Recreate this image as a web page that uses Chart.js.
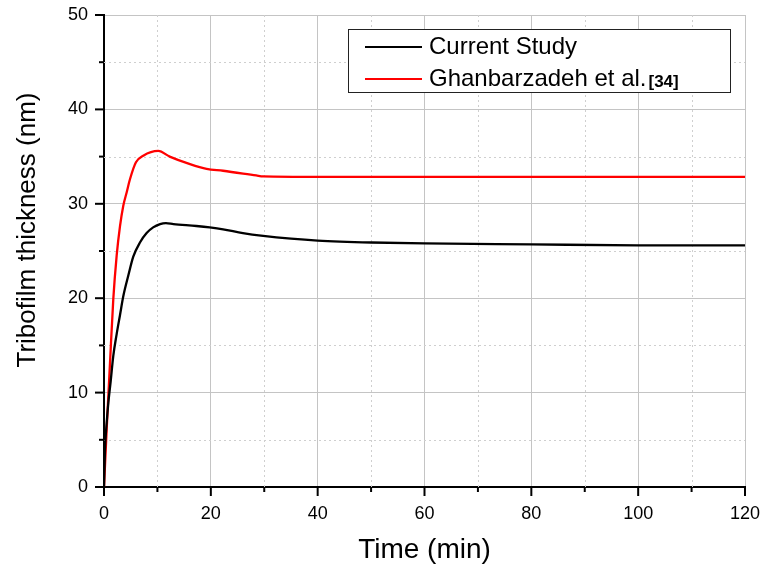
<!DOCTYPE html>
<html>
<head>
<meta charset="utf-8">
<script src="https://cdn.jsdelivr.net/npm/chart.js@4/dist/chart.umd.min.js"></script>
<style>
    body { margin: 0; background: #fff; }
    #wrap { width: 766px; height: 573px; }
</style>
</head>
<body>
<div id="wrap"><canvas id="filmChart"></canvas></div>
<script>
'use strict';

// Current Study (time in min, thickness in nm)
const timeCurrent = [0, 0.19, 0.5, 0.81, 1.25, 1.74, 2.37, 2.99, 3.61, 4.55, 5.48, 6.73, 7.98, 9.2, 10.5, 11.6, 13.0, 17.3, 19.8, 22.3, 26.0, 29.8, 35, 40, 50, 60, 80, 100, 120];
const thicknessCurrent = [0, 4.0, 6.8, 8.9, 11.2, 13.9, 16.2, 18.2, 20.2, 22.4, 24.4, 25.9, 26.9, 27.5, 27.85, 27.95, 27.85, 27.65, 27.5, 27.3, 26.9, 26.6, 26.3, 26.1, 25.9, 25.8, 25.7, 25.6, 25.6];
// Ghanbarzadeh et al. [34]
const timeGhanbar = [0, 0.5, 1.12, 1.74, 2.37, 2.99, 3.61, 4.24, 4.86, 5.98, 7.35, 10.16, 12.3, 16.1, 19.2, 22.3, 28.5, 29.8, 40, 60, 80, 100, 120];
const thicknessGhanbar = [0, 6.1, 13.1, 19.9, 24.5, 27.6, 29.8, 31.2, 32.6, 34.4, 35.1, 35.6, 35.0, 34.2, 33.7, 33.5, 33.0, 32.9, 32.85, 32.85, 32.85, 32.85, 32.85];
// 凡例・軸タイトルの文字
const legendLabels = ['Current Study', 'Ghanbarzadeh et al.'];
const legendRef = '[34]';
const yTitle = 'Tribofilm thickness (nm)';
const xTitle = 'Time (min)';
// 軸の目盛
const xMajorTicks = [0, 20, 40, 60, 80, 100, 120];
const xMinorTicks = [10, 30, 50, 70, 90, 110];
const yMajorTicks = [0, 10, 20, 30, 40, 50];
const yMinorTicks = [5, 15, 25, 35, 45];

const FONT = 'Arial, "Liberation Sans", sans-serif';
Chart.defaults.font.family = FONT;
Chart.defaults.color = '#000';

function toPoints(xs, ys) {
    return xs.map((x, i) => ({ x: x, y: ys[i] }));
}

/**
 * 副目盛の点線と目盛線（外向き）、縦軸タイトル、凡例を描く
 */
const axisDecor = {
    id: 'axisDecor',
    beforeDatasetsDraw(chart) {
        const { ctx, chartArea: a, scales: { x, y } } = chart;
        ctx.save();
        ctx.strokeStyle = '#cfcfcf';
        ctx.lineWidth = 1;
        ctx.setLineDash([2, 3]);
        xMinorTicks.forEach(v => {
            const px = Math.round(x.getPixelForValue(v)) + 0.5;
            ctx.beginPath(); ctx.moveTo(px, a.top); ctx.lineTo(px, a.bottom); ctx.stroke();
        });
        yMinorTicks.forEach(v => {
            const py = Math.round(y.getPixelForValue(v)) + 0.5;
            ctx.beginPath(); ctx.moveTo(a.left, py); ctx.lineTo(a.right, py); ctx.stroke();
        });
        ctx.restore();
    },
    afterDraw(chart) {
        const { ctx, chartArea: a, scales: { x, y } } = chart;
        ctx.save();
        ctx.strokeStyle = '#000';
        ctx.lineWidth = 2;
        const tickX = (v, len) => {
            const px = x.getPixelForValue(v);
            ctx.beginPath(); ctx.moveTo(px, a.bottom); ctx.lineTo(px, a.bottom + len); ctx.stroke();
        };
        const tickY = (v, len) => {
            const py = y.getPixelForValue(v);
            ctx.beginPath(); ctx.moveTo(a.left, py); ctx.lineTo(a.left - len, py); ctx.stroke();
        };
        xMajorTicks.forEach(v => tickX(v, 9));
        xMinorTicks.forEach(v => tickX(v, 5));
        yMajorTicks.forEach(v => tickY(v, 9));
        yMinorTicks.forEach(v => tickY(v, 5));

        // 縦軸タイトル（少し上寄り）
        ctx.save();
        ctx.translate(28, 230);
        ctx.rotate(-Math.PI / 2);
        ctx.font = '26px ' + FONT;
        ctx.fillStyle = '#000';
        ctx.textAlign = 'center';
        ctx.textBaseline = 'middle';
        ctx.fillText(yTitle, 0, 0);
        ctx.restore();

        // 凡例
        const bx = 348, by = 29, bw = 382, bh = 63;
        ctx.fillStyle = '#fff';
        ctx.fillRect(bx, by, bw, bh);
        ctx.lineWidth = 1;
        ctx.strokeStyle = '#222';
        ctx.strokeRect(bx + 0.5, by + 0.5, bw, bh);
        const rows = [{ color: '#000', y: 47 }, { color: '#ff0000', y: 79 }];
        rows.forEach((r, i) => {
            ctx.strokeStyle = r.color;
            ctx.lineWidth = 2;
            ctx.beginPath(); ctx.moveTo(365, r.y); ctx.lineTo(422, r.y); ctx.stroke();
            ctx.fillStyle = '#000';
            ctx.textBaseline = 'middle';
            ctx.font = '24px ' + FONT;
            ctx.fillText(legendLabels[i], 429, r.y);
            if (i === 1) {
                const w = ctx.measureText(legendLabels[i]).width;
                ctx.font = 'bold 17px ' + FONT;
                ctx.fillText(legendRef, 429 + w + 2, r.y + 3);
            }
        });
        ctx.restore();
    }
};

const chart = new Chart(document.getElementById('filmChart'), {
    type: 'line',
    data: {
        datasets: [
            {
                label: legendLabels[0],
                data: toPoints(timeCurrent, thicknessCurrent),
                borderColor: '#000',
                borderWidth: 2.3,
                pointRadius: 0,
                cubicInterpolationMode: 'monotone'
            },
            {
                label: legendLabels[1] + legendRef,
                data: toPoints(timeGhanbar, thicknessGhanbar),
                borderColor: '#ff0000',
                borderWidth: 2.3,
                pointRadius: 0,
                cubicInterpolationMode: 'monotone'
            }
        ]
    },
    options: {
        responsive: true,
        maintainAspectRatio: false,
        animation: false,
        layout: { padding: { top: 15, right: 21, left: 0, bottom: 0 } },
        plugins: { legend: { display: false }, tooltip: { enabled: false } },
        scales: {
            x: {
                type: 'linear',
                min: 0, max: 120,
                afterFit: s => { s.height = 86; s.paddingLeft = 0; s.paddingRight = 0; },
                border: { color: '#000', width: 2 },
                grid: {
                    drawTicks: false,
                    color: c => (c.tick && c.tick.value % 20 === 0) ? '#c4c4c4' : 'rgba(0,0,0,0)'
                },
                ticks: {
                    stepSize: 10,
                    padding: 16,
                    maxRotation: 0,
                    font: { size: 18 },
                    callback: v => (v % 20 === 0 ? v : '')
                },
                title: { display: true, text: xTitle, font: { size: 28 }, padding: { top: 4, bottom: 6 } }
            },
            y: {
                min: 0, max: 50,
                afterFit: s => { s.width = 104; s.paddingTop = 0; s.paddingBottom = 0; },
                border: { color: '#000', width: 2 },
                grid: {
                    drawTicks: false,
                    color: c => (c.tick && c.tick.value % 10 === 0) ? '#c4c4c4' : 'rgba(0,0,0,0)'
                },
                ticks: {
                    stepSize: 5,
                    padding: 16,
                    font: { size: 18 },
                    callback: v => (v % 10 === 0 ? v : '')
                },
                title: { display: false }
            }
        }
    },
    plugins: [axisDecor]
});
</script>
</body>
</html>
